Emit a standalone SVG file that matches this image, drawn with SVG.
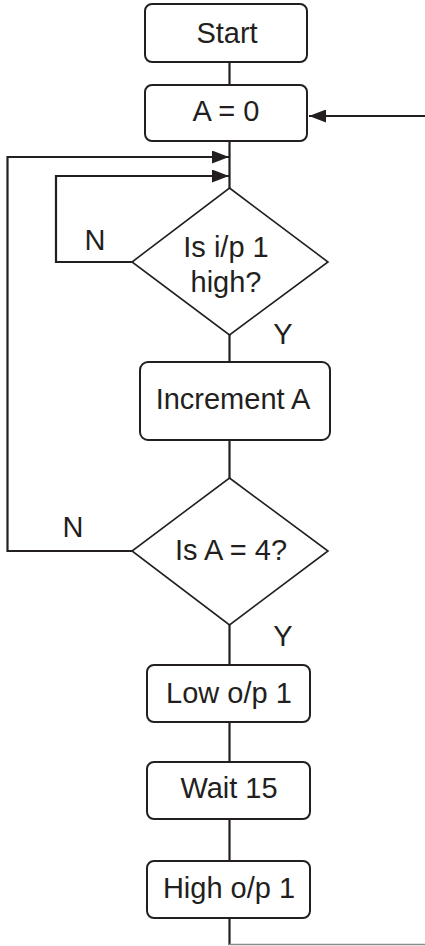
<svg xmlns="http://www.w3.org/2000/svg" width="425" height="946" viewBox="0 0 425 946">
<defs>
<style>
.box{fill:#fff;stroke:#231f20;stroke-width:2}
.dia{fill:#fff;stroke:#231f20;stroke-width:1.6}
.ln{fill:none;stroke:#231f20;stroke-width:2.2}
.t{font-family:"Liberation Sans",Arial,sans-serif;font-size:29px;fill:#231f20;text-anchor:middle}
</style>
<marker id="ah" viewBox="0 0 17 13" refX="17" refY="6.5" markerWidth="17" markerHeight="13" markerUnits="userSpaceOnUse" orient="auto">
<path d="M0,0 L17,6.5 L0,13 Z" fill="#231f20"/>
</marker>
</defs>
<g id="connectors">
<line class="ln" x1="229.5" y1="62" x2="229.5" y2="85"/>
<line class="ln" x1="229.5" y1="141" x2="229.5" y2="188"/>
<line class="ln" x1="425" y1="116" x2="309" y2="116" marker-end="url(#ah)"/>
<polyline class="ln" points="132,551 7.5,551 7.5,157 229,157" marker-end="url(#ah)"/>
<polyline class="ln" points="132,262 56,262 56,176 229,176" marker-end="url(#ah)"/>
<line class="ln" x1="229.5" y1="335" x2="229.5" y2="362"/>
<line class="ln" x1="229.5" y1="440" x2="229.5" y2="478"/>
<line class="ln" x1="229.5" y1="625" x2="229.5" y2="665"/>
<line class="ln" x1="229.5" y1="722" x2="229.5" y2="762"/>
<line class="ln" x1="229.5" y1="819" x2="229.5" y2="861"/>
<line class="ln" x1="229.5" y1="918" x2="229.5" y2="945"/>
<line x1="229" y1="944.5" x2="425" y2="944.5" stroke="#8a8a8a" stroke-width="1.4"/>
<text class="t" x="95" y="250">N</text>
<text class="t" x="283" y="344">Y</text>
<text class="t" x="73" y="537">N</text>
<text class="t" x="283" y="646">Y</text>
</g>
<g id="start">
<rect class="box" x="145" y="4" width="162" height="58" rx="7"/>
<text class="t" x="227" y="43">Start</text>
</g>
<g id="a0">
<rect class="box" x="145" y="85" width="162" height="56" rx="7"/>
<text class="t" x="226" y="121">A = 0</text>
</g>
<g id="dec1">
<polygon class="dia" points="229.5,188 328,262 229.5,335 132,262"/>
<text class="t" x="226" y="257">Is i/p 1</text>
<text class="t" x="226" y="292">high?</text>
</g>
<g id="inc">
<rect class="box" x="140" y="362" width="190" height="78" rx="8"/>
<text class="t" x="233" y="409">Increment A</text>
</g>
<g id="dec2">
<polygon class="dia" points="229.5,478 328,551 229.5,625 132,551"/>
<text class="t" x="231" y="560">Is A = 4?</text>
</g>
<g id="low">
<rect class="box" x="147" y="665" width="163" height="57" rx="7"/>
<text class="t" x="229" y="703">Low o/p 1</text>
</g>
<g id="wait">
<rect class="box" x="147" y="762" width="163" height="57" rx="7"/>
<text class="t" x="229" y="798">Wait 15</text>
</g>
<g id="high">
<rect class="box" x="147" y="861" width="163" height="57" rx="7"/>
<text class="t" x="229" y="898">High o/p 1</text>
</g>
</svg>
